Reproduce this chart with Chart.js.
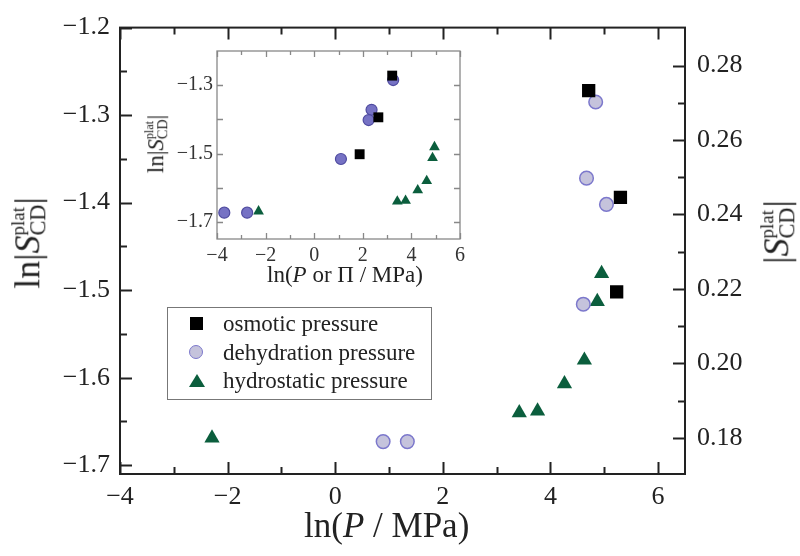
<!DOCTYPE html>
<html>
<head>
<meta charset="utf-8">
<script src="https://cdn.jsdelivr.net/npm/chart.js@4"></script>
<style>
  body { margin: 0; background: #fff; }
  #wrap { position: relative; width: 800px; height: 556px; font-family: 'Liberation Serif', 'DejaVu Serif', serif; color: #222; }
  canvas { position: absolute; }
  .title { position: absolute; white-space: nowrap; line-height: 1; }
  .rot { transform: translate(-50%, -50%) rotate(-90deg); }
  .ss { display: inline-block; vertical-align: -0.28em; font-size: 0.62em; line-height: 0.95; text-align: left; }
  .ss span { display: block; }
  .ss .sup { font-size: 0.85em; }
  #legend { position: absolute; left: 167px; top: 307px; width: 263px; height: 91px; border: 1px solid #777; background: #fff; font-size: 23px; }
  #legend .row { position: absolute; left: 55px; line-height: 1; }
  #legend .mk { position: absolute; }
</style>
</head>
<body>
<div id="wrap">
  <canvas id="main" width="800" height="556" style="left:0;top:0"></canvas>
  <canvas id="inset" width="330" height="260" style="left:140px;top:35px"></canvas>

  <div class="title" style="left:304px; top:508px; font-size:35px;">ln(<i>P</i> / MPa)</div>
  <div class="title rot" style="left:29px; top:243px; font-size:36px;">ln|<i>S</i><span class="ss"><span class="sup">plat</span><span>CD</span></span>|</div>
  <div class="title rot" style="left:778px; top:232px; font-size:36px;">|<i>S</i><span class="ss"><span class="sup">plat</span><span>CD</span></span>|</div>

  <div class="title" style="left:267px; top:263px; font-size:23px;">ln(<i>P</i> or &Pi; / MPa)</div>
  <div class="title rot" style="left:157px; top:144px; font-size:23px;">ln|<i>S</i><span class="ss"><span class="sup">plat</span><span>CD</span></span>|</div>

  <div id="legend">
    <div class="mk" style="left:22px; top:9px; width:13px; height:13px; background:#000;"></div>
    <div class="row" style="top:4px;">osmotic pressure</div>
    <div class="mk" style="left:21px; top:37px; width:12px; height:12px; border-radius:50%; background:#c5c3dc; border:1.5px solid #7c78cc;"></div>
    <div class="row" style="top:33px;">dehydration pressure</div>
    <div class="mk" style="left:21px; top:66px; width:0; height:0; border-left:8px solid transparent; border-right:8px solid transparent; border-bottom:13px solid #0b5e3d;"></div>
    <div class="row" style="top:61px;">hydrostatic pressure</div>
  </div>
</div>

<script>
// Data
const osmoticX = [4.71, 5.30, 5.23];
const osmoticInsetX = [3.21, 2.64, 1.87];
const osmoticY = [-1.272, -1.394, -1.502];

const dehydrationX = [4.84, 4.67, 5.04, 4.61, 0.89, 1.34];
const dehydrationInsetX = [3.25, 2.36, 2.24, 1.10, -3.70, -2.76];
const dehydrationY = [-1.285, -1.372, -1.402, -1.516, -1.673, -1.673];

const hydrostaticX = [-2.29, 3.42, 3.76, 4.26, 4.63, 4.87, 4.95];
const hydrostaticY = [-1.669, -1.640, -1.638, -1.607, -1.580, -1.513, -1.481];

// Tick labels
const mainXTicks = [-4, -2, 0, 2, 4, 6];
const mainYTicks = [-1.7, -1.6, -1.5, -1.4, -1.3, -1.2];
const rightTicks = [0.18, 0.20, 0.22, 0.24, 0.26, 0.28];
const insetXTicks = [-4, -2, 0, 2, 4, 6];
const insetYTicks = [-1.7, -1.5, -1.3];

const pts = (xs, ys) => xs.map((x, i) => ({ x: x, y: ys[i] }));
const minus = s => String(s).replace('-', '\u2212');
const serif = "'Liberation Serif', 'DejaVu Serif', serif";

// inward tick marks (major + minor) and a closed frame
const tickMarks = {
    id: 'tickMarks',
    afterDraw(chart, args, opts) {
        const ctx = chart.ctx;
        const a = chart.chartArea;
        ctx.save();
        ctx.strokeStyle = opts.color;
        ctx.lineWidth = opts.width;
        opts.axes.forEach(ax => {
            const s = chart.scales[ax.id];
            const n = Math.round((ax.to - ax.from) / ax.minor);
            for (let i = 0; i <= n; i++) {
                const v = ax.from + i * ax.minor;
                const r = v / ax.major;
                const len = Math.abs(r - Math.round(r)) < 1e-6 ? opts.majorLen : opts.minorLen;
                const p = Math.round(s.getPixelForValue(v)) + 0.5;
                ctx.beginPath();
                ax.sides.forEach(side => {
                    if (side === 'bottom') { ctx.moveTo(p, a.bottom); ctx.lineTo(p, a.bottom - len); }
                    if (side === 'top') { ctx.moveTo(p, a.top); ctx.lineTo(p, a.top + len); }
                    if (side === 'left') { ctx.moveTo(a.left, p); ctx.lineTo(a.left + len, p); }
                    if (side === 'right') { ctx.moveTo(a.right, p); ctx.lineTo(a.right - len, p); }
                });
                ctx.stroke();
            }
        });
        ctx.strokeRect(a.left, a.top, a.right - a.left, a.bottom - a.top);
        ctx.restore();
    }
};

function fixedTicks(list) {
    return scale => { scale.ticks = list.map(v => ({ value: v })); };
}

// Main chart
new Chart(document.getElementById('main'), {
    type: 'scatter',
    data: {
        datasets: [
            { label: 'osmotic pressure', data: pts(osmoticX, osmoticY), pointStyle: 'rect', pointRadius: 9.4, backgroundColor: '#000', borderColor: '#000', borderWidth: 0 },
            { label: 'dehydration pressure', data: pts(dehydrationX, dehydrationY), pointStyle: 'circle', pointRadius: 6.8, backgroundColor: '#c5c3dc', borderColor: '#7c78cc', borderWidth: 1.5 },
            { label: 'hydrostatic pressure', data: pts(hydrostaticX, hydrostaticY), pointStyle: 'triangle', pointRadius: 8.8, backgroundColor: '#0b5e3d', borderColor: '#0b5e3d', borderWidth: 0 }
        ]
    },
    options: {
        responsive: false,
        animation: false,
        events: [],
        layout: { padding: { top: 15, left: 0, right: 0, bottom: 0 } },
        plugins: {
            legend: { display: false },
            tooltip: { enabled: false },
            tickMarks: {
                color: '#222', width: 2, majorLen: 12, minorLen: 7,
                axes: [
                    { id: 'x', from: -4, to: 6, major: 2, minor: 1, sides: ['bottom', 'top'] },
                    { id: 'y', from: -1.7, to: -1.2, major: 0.1, minor: 0.05, sides: ['left'] },
                    { id: 'y2', from: 0.18, to: 0.28, major: 0.02, minor: 0.01, sides: ['right'] }
                ]
            }
        },
        scales: {
            x: {
                type: 'linear', position: 'bottom', min: -4, max: 6.5,
                afterBuildTicks: fixedTicks(mainXTicks),
                afterFit: s => { s.height = 82; },
                grid: { display: false, drawTicks: false },
                border: { display: false },
                ticks: { autoSkip: false, maxRotation: 0, padding: 8, color: '#222', font: { family: serif, size: 26 }, callback: v => minus(v) }
            },
            y: {
                type: 'linear', position: 'left', min: -1.71, max: -1.2,
                afterBuildTicks: fixedTicks(mainYTicks),
                afterFit: s => { s.width = 120; },
                grid: { display: false, drawTicks: false },
                border: { display: false },
                ticks: { autoSkip: false, padding: 10, color: '#222', font: { family: serif, size: 26 }, callback: v => minus(v.toFixed(1)) }
            },
            y2: {
                type: 'linear', position: 'right', min: 0.1703, max: 0.2902,
                afterBuildTicks: fixedTicks(rightTicks),
                afterFit: s => { s.width = 115; },
                grid: { display: false, drawTicks: false },
                border: { display: false },
                ticks: { autoSkip: false, padding: 12, color: '#222', font: { family: serif, size: 26 }, callback: v => v.toFixed(2) }
            }
        }
    },
    plugins: [tickMarks]
});

// Inset chart
new Chart(document.getElementById('inset'), {
    type: 'scatter',
    data: {
        datasets: [
            { label: 'osmotic pressure', data: pts(osmoticInsetX, osmoticY), pointStyle: 'rect', pointRadius: 7, backgroundColor: '#000', borderWidth: 0 },
            { label: 'dehydration pressure', data: pts(dehydrationInsetX, dehydrationY), pointStyle: 'circle', pointRadius: 5.5, backgroundColor: '#7672c4', borderColor: '#4f4ba0', borderWidth: 1.2 },
            { label: 'hydrostatic pressure', data: pts(hydrostaticX, hydrostaticY), pointStyle: 'triangle', pointRadius: 6.2, backgroundColor: '#0b5e3d', borderWidth: 0 }
        ]
    },
    options: {
        responsive: false,
        animation: false,
        events: [],
        layout: { padding: { top: 5, right: 7, left: 0, bottom: 0 } },
        plugins: {
            legend: { display: false },
            tooltip: { enabled: false },
            tickMarks: {
                color: '#888', width: 1.3, majorLen: 6, minorLen: 4,
                axes: [
                    { id: 'x', from: -4, to: 6, major: 2, minor: 1, sides: ['bottom', 'top'] },
                    { id: 'y', from: -1.7, to: -1.3, major: 0.1, minor: 0.1, sides: ['left', 'right'] }
                ]
            }
        },
        scales: {
            x: {
                type: 'linear', position: 'bottom', min: -4, max: 6,
                afterBuildTicks: fixedTicks(insetXTicks),
                afterFit: s => { s.height = 56; },
                grid: { display: false, drawTicks: false },
                border: { display: false },
                ticks: { autoSkip: false, maxRotation: 0, padding: 5, color: '#333', font: { family: serif, size: 20 }, callback: v => minus(v) }
            },
            y: {
                type: 'linear', position: 'left', min: -1.75, max: -1.2,
                afterBuildTicks: fixedTicks(insetYTicks),
                afterFit: s => { s.width = 77; },
                grid: { display: false, drawTicks: false },
                border: { display: false },
                ticks: { autoSkip: false, padding: 4, color: '#333', font: { family: serif, size: 20 }, callback: v => minus(v.toFixed(1)) }
            }
        }
    },
    plugins: [tickMarks]
});
</script>
</body>
</html>
